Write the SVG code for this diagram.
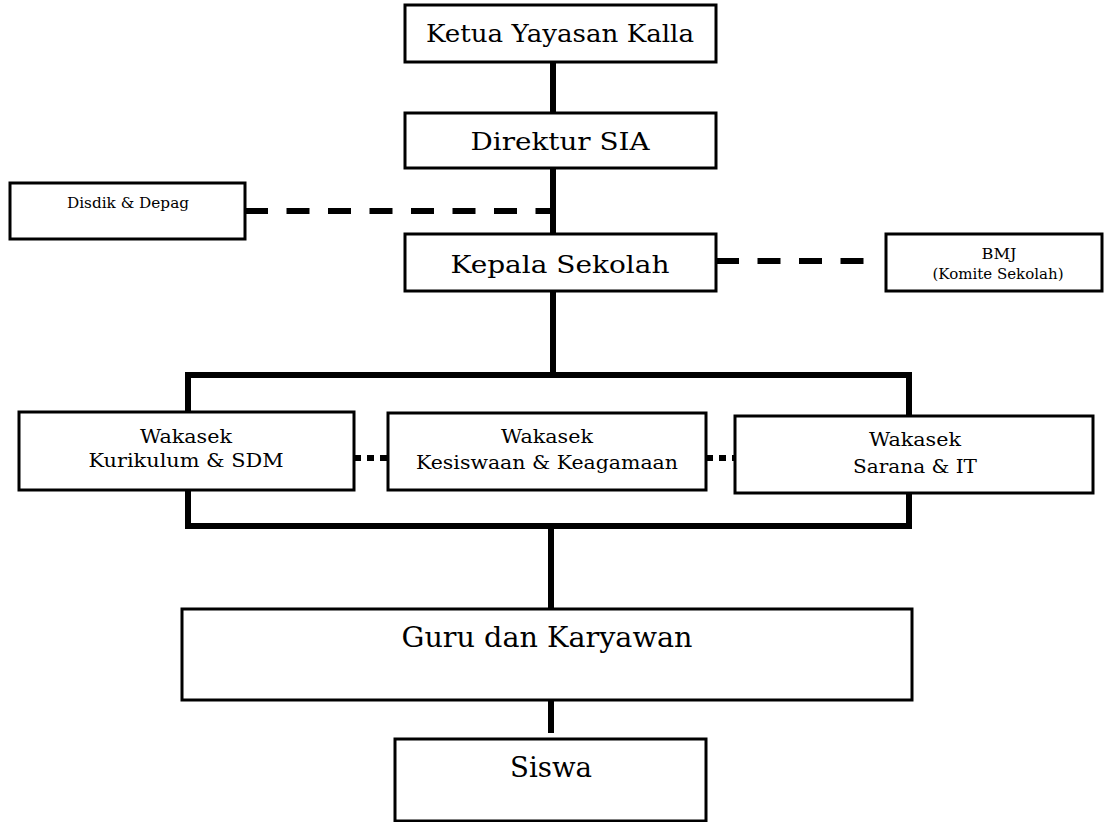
<svg xmlns="http://www.w3.org/2000/svg" width="1105" height="822" viewBox="0 0 1105 822">
<style>
.box{fill:#fff;stroke:#000;stroke-width:3}
.ln{stroke:#000;stroke-width:6;fill:none;stroke-linejoin:miter;stroke-linecap:butt}
.dash{stroke-dasharray:23 18.5}
.dot{stroke-dasharray:7 6}
text{font-family:"DejaVu Serif","Liberation Serif",serif;fill:#000;text-anchor:middle}
.big{font-size:25px}
.lg{font-size:28px}
.mid{font-size:19px}
.sm{font-size:14px}
</style>
<rect width="1105" height="822" fill="#fff"/>
<g id="connectors">
<path class="ln" d="M553 62V113M553 168V234M553 291V375"/>
<path class="ln" d="M188 411V375H909V416"/>
<path class="ln" d="M188 490V526H909V493"/>
<path class="ln" d="M551 526V609M551 700V733"/>
<path class="ln dash" d="M245 211H553"/>
<path class="ln dash" d="M716 261H866"/>
<path class="ln dot" d="M354 458H387"/>
<path class="ln dot" d="M706 458H734"/>
</g>
<g id="ketua">
<rect class="box" x="405" y="5" width="311" height="57"/>
<text class="big" x="560" y="42" textLength="268" lengthAdjust="spacingAndGlyphs">Ketua Yayasan Kalla</text>
</g>
<g id="direktur">
<rect class="box" x="405" y="113" width="311" height="55"/>
<text class="big" x="560" y="150" textLength="179" lengthAdjust="spacingAndGlyphs">Direktur SIA</text>
</g>
<g id="disdik">
<rect class="box" x="10" y="183" width="235" height="56"/>
<text class="sm" x="128" y="208" textLength="122" lengthAdjust="spacingAndGlyphs">Disdik &amp; Depag</text>
</g>
<g id="kepala">
<rect class="box" x="405" y="234" width="311" height="57"/>
<text class="big" x="560" y="273" textLength="219" lengthAdjust="spacingAndGlyphs">Kepala Sekolah</text>
</g>
<g id="bmj">
<rect class="box" x="886" y="234" width="216" height="57"/>
<text class="sm" x="999" y="259" textLength="35" lengthAdjust="spacingAndGlyphs">BMJ</text>
<text class="sm" x="998" y="279" textLength="131" lengthAdjust="spacingAndGlyphs">(Komite Sekolah)</text>
</g>
<g id="wakasek-kurikulum">
<rect class="box" x="19" y="412" width="335" height="78"/>
<text class="mid" x="186" y="443" textLength="92" lengthAdjust="spacingAndGlyphs">Wakasek</text>
<text class="mid" x="186" y="467" textLength="195" lengthAdjust="spacingAndGlyphs">Kurikulum &amp; SDM</text>
</g>
<g id="wakasek-kesiswaan">
<rect class="box" x="388" y="413" width="318" height="77"/>
<text class="mid" x="547" y="443" textLength="92" lengthAdjust="spacingAndGlyphs">Wakasek</text>
<text class="mid" x="547" y="469" textLength="262" lengthAdjust="spacingAndGlyphs">Kesiswaan &amp; Keagamaan</text>
</g>
<g id="wakasek-sarana">
<rect class="box" x="735" y="416" width="358" height="77"/>
<text class="mid" x="915" y="446" textLength="92" lengthAdjust="spacingAndGlyphs">Wakasek</text>
<text class="mid" x="915" y="473" textLength="124" lengthAdjust="spacingAndGlyphs">Sarana &amp; IT</text>
</g>
<g id="guru">
<rect class="box" x="182" y="609" width="730" height="91"/>
<text class="lg" x="547" y="647" textLength="291" lengthAdjust="spacingAndGlyphs">Guru dan Karyawan</text>
</g>
<g id="siswa">
<rect class="box" x="395" y="739" width="311" height="82"/>
<text class="lg" x="551" y="777" textLength="82" lengthAdjust="spacingAndGlyphs">Siswa</text>
</g>
</svg>
